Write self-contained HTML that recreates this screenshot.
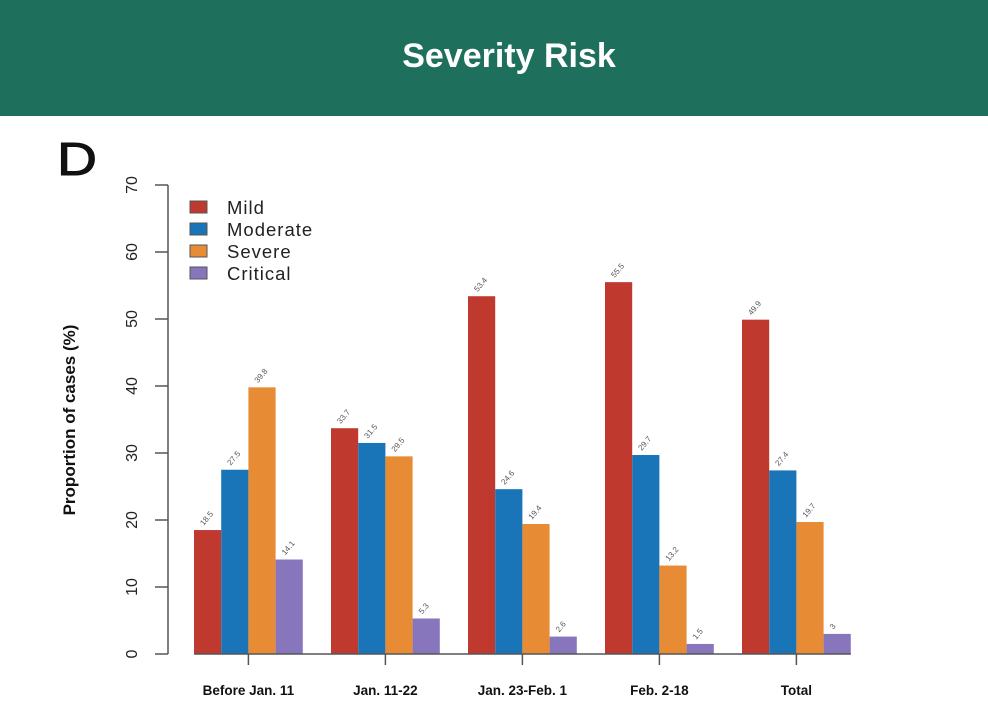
<!DOCTYPE html>
<html><head><meta charset="utf-8"><style>
body{margin:0;width:988px;height:714px;background:#fff;overflow:hidden;font-family:"Liberation Sans",sans-serif}
#hdr{position:absolute;left:0;top:0;width:988px;height:116px;background:#1f6f5d;color:#fff;font-weight:bold;font-size:34px;text-align:center;line-height:112px;text-indent:30px}
</style></head><body>
<div id="hdr">Severity Risk</div>
<svg id="c" width="988" height="714" style="position:absolute;left:0;top:0">
<text x="57" y="175" font-size="46" fill="#111" stroke="#111" stroke-width="1" textLength="40" lengthAdjust="spacingAndGlyphs">D</text>
</svg>
<script>
const categories=["Before Jan. 11","Jan. 11-22","Jan. 23-Feb. 1","Feb. 2-18","Total"];
const seriesNames=["Mild","Moderate","Severe","Critical"];
const mild=[18.5,33.7,53.4,55.5,49.9];
const moderate=[27.5,31.5,24.6,29.7,27.4];
const severe=[39.8,29.5,19.4,13.2,19.7];
const critical=[14.1,5.3,2.6,1.5,3];
const yTicks=[0,10,20,30,40,50,60,70];
const colors=["#c0392e","#1a74b8","#e88b35","#8876bd"];
const ns="http://www.w3.org/2000/svg",svg=document.getElementById('c');
function el(t,a,p){const e=document.createElementNS(ns,t);for(const k in a)e.setAttribute(k,a[k]);(p||svg).appendChild(e);return e;}
const y0=654,pxu=6.7,x0=194,gap=137,bw=27.2;
const Y=v=>y0-v*pxu;
const series=[mild,moderate,severe,critical];
let ax=el('line',{x1:168,x2:168,y1:Y(70),y2:y0,stroke:'#555','stroke-width':1.5});

yTicks.forEach(v=>{
 el('line',{x1:155,x2:168,y1:Y(v),y2:Y(v),stroke:'#555','stroke-width':1.5});
 const t=el('text',{x:0,y:0,transform:`translate(137,${Y(v)}) rotate(-90)`,'text-anchor':'middle','font-size':16,fill:'#222'});
 t.textContent=v;
 
});
const yt=el('text',{transform:'translate(75,420) rotate(-90)','text-anchor':'middle','font-size':17,'font-weight':'bold',fill:'#111'});
yt.textContent='Proportion of cases (%)';

categories.forEach((c,i)=>{
 series.forEach((s,j)=>{
  const x=x0+i*gap+j*bw;
  const r=el('rect',{x:x,y:Y(s[i]),width:bw,height:s[i]*pxu,fill:colors[j]});
  
  
  const t=el('text',{transform:`translate(${x+bw/2-4},${Y(s[i])-4}) rotate(-50)`,'font-size':8,fill:'#555'});
  t.textContent=s[i];
  
 });
 const cx=x0+i*gap+2*bw;
 el('line',{x1:cx,x2:cx,y1:y0,y2:665,stroke:'#555','stroke-width':1.5});
 const t=el('text',{x:cx,y:695,'text-anchor':'middle','font-size':13.5,'font-weight':'bold',fill:'#111'});
 t.textContent=c;
 
});
const bl=el('line',{x1:x0,x2:x0+4*gap+4*bw,y1:y0,y2:y0,stroke:'#555','stroke-width':1.5});

seriesNames.forEach((n,j)=>{
 const y=201+j*22;
 const r=el('rect',{x:190,y:y,width:17,height:12,fill:colors[j],stroke:'#555','stroke-width':1});
 
 const t=el('text',{x:227,y:y+13,'font-size':18.5,'letter-spacing':1,fill:'#222'});
 t.textContent=n;
 
});
</script>
</body></html>
